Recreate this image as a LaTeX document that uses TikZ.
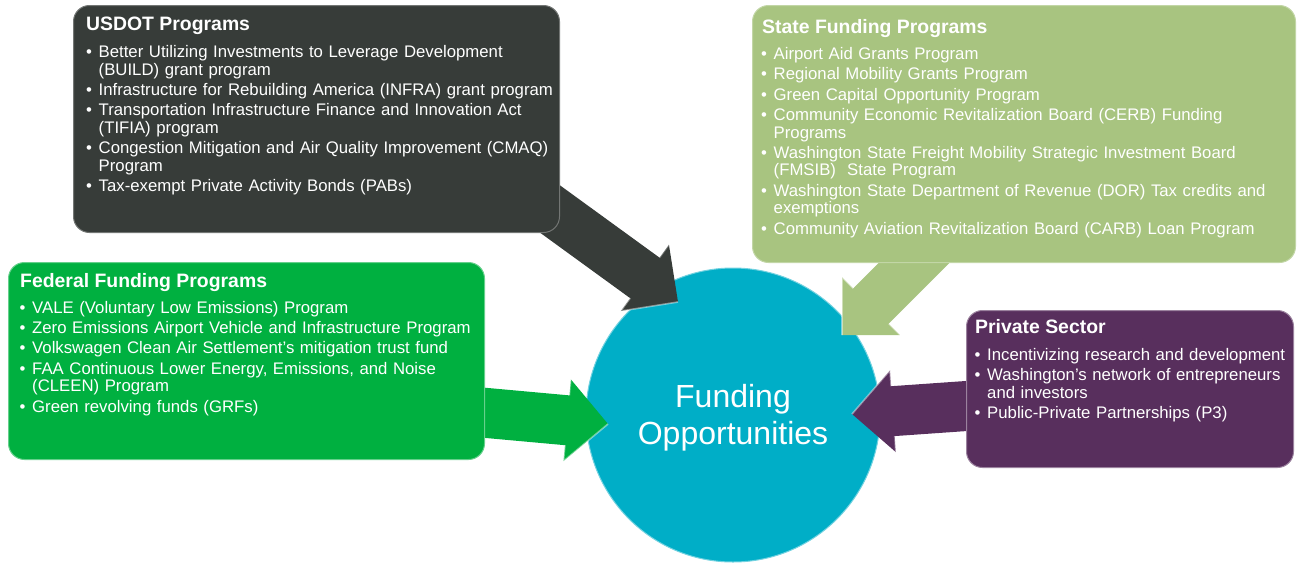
\documentclass[tikz,border=0pt]{standalone}
\usepackage{fontspec}
\setmainfont{Liberation Sans}
\usetikzlibrary{calc}
\definecolor{cUS}{HTML}{373C39}
\definecolor{cST}{HTML}{A8C480}
\definecolor{cFE}{HTML}{00B040}
\definecolor{cPR}{HTML}{582F5D}
\definecolor{cFO}{HTML}{00AEC7}
\newcommand{\bfirst}[1]{\hangindent=12.5pt\hangafter=1\noindent\makebox[12.5pt][l]{\textbullet}#1}
\newcommand{\bitem}[1]{\par\hangindent=12.5pt\hangafter=1\noindent\makebox[12.5pt][l]{\textbullet}#1}
\newcommand{\lstsetup}{\setlength{\parskip}{2.9pt}\setlength{\parindent}{0pt}}
\newcommand{\blockarrow}[4]{%
  \begin{scope}[shift={(#1)}, rotate=#2]
    \fill[#3] (0,0) -- (-41,41) -- (-41,25) -- (-#4,25) -- (-#4,-25) -- (-41,-25) -- (-41,-41) -- cycle;
    \draw[white, opacity=0.45, line width=1.6pt, line join=round] (-41,25) -- (-41,41) -- (0,0);
    \draw[white, opacity=0.3, line width=1.6pt, line join=round] (-41,-25) -- (-41,-41);
  \end{scope}}
\tikzset{
  x=1pt, y=-1pt,
  panel/.style={rounded corners=16pt, anchor=north west, inner sep=0pt, line width=1pt},
  ptitle/.style={anchor=base west, inner sep=0pt, text=white, font=\fontsize{19.4}{22}\selectfont\bfseries},
  plist/.style={anchor=base west, inner sep=0pt, text=white, text width=520pt, align=left, font=\fontsize{16.75}{17.5}\selectfont},
  hub/.style={circle, minimum size=294pt, inner sep=0pt, fill=cFO, draw=cFO!55!white, line width=1pt},
  hubtext/.style={inner sep=0pt, text=white, align=center, font=\fontsize{32}{37}\selectfont}
}
\begin{document}
\begin{tikzpicture}
\useasboundingbox (0,0) rectangle (1297,562);
% hub
\node[hub] (fo) at (733,415) {};
\node[hubtext] (foT) at (733,418) {Funding\\Opportunities};
% arrow tips
\coordinate (tipUS) at (678,302);
\coordinate (tipST) at (842,335);
\coordinate (tipFE) at (608,424);
\coordinate (tipPR) at (852,414);
% arrows
\blockarrow{tipUS}{-36}{cUS}{200}
\blockarrow{tipST}{-135}{cST}{150}
\blockarrow{tipFE}{-5.2}{cFE}{150}
\blockarrow{tipPR}{-176}{cPR}{150}
% panels
\node[panel, fill=cUS, draw=cUS!70!white, minimum width=486pt, minimum height=227pt] (usdot) at (73,5) {};
\node[panel, fill=cST, draw=cST!70!white, minimum width=543pt, minimum height=257pt] (state) at (752,5) {};
\node[panel, fill=cFE, draw=cFE!60!white, minimum width=476pt, minimum height=197pt] (federal) at (8,262) {};
\node[panel, fill=cPR, draw=cPR!60!white, minimum width=327pt, minimum height=157pt] (private) at (966,310) {};
% USDOT text
\node[ptitle] (usdotT) at (86,30) {USDOT Programs};
\node[plist] (usdotL) at (86,57.5) {\lstsetup
\bfirst{Better Utilizing Investments to Leverage Development\newline(BUILD) grant program}
\bitem{Infrastructure for Rebuilding America (INFRA) grant program}
\bitem{Transportation Infrastructure Finance and Innovation Act\newline(TIFIA) program}
\bitem{Congestion Mitigation and Air Quality Improvement (CMAQ)\newline Program}
\bitem{Tax-exempt Private Activity Bonds (PABs)}};
% State text
\node[ptitle] (stateT) at (762,33) {State Funding Programs};
\node[plist] (stateL) at (761,59.3) {\lstsetup
\bfirst{Airport Aid Grants Program}
\bitem{Regional Mobility Grants Program}
\bitem{Green Capital Opportunity Program}
\bitem{Community Economic Revitalization Board (CERB) Funding\newline Programs}
\bitem{Washington State Freight Mobility Strategic Investment Board\newline (FMSIB)~ State Program}
\bitem{Washington State Department of Revenue (DOR) Tax credits and\newline exemptions}
\bitem{Community Aviation Revitalization Board (CARB) Loan Program}};
% Federal text
\node[ptitle] (federalT) at (20,287) {Federal Funding Programs};
\node[plist] (federalL) at (19.5,313) {\lstsetup
\bfirst{VALE (Voluntary Low Emissions) Program}
\bitem{Zero Emissions Airport Vehicle and Infrastructure Program}
\bitem{Volkswagen Clean Air Settlement’s mitigation trust fund}
\bitem{FAA Continuous Lower Energy, Emissions, and Noise\newline(CLEEN) Program}
\bitem{Green revolving funds (GRFs)}};
% Private text
\node[ptitle] (privateT) at (975,333) {Private Sector};
\node[plist] (privateL) at (974.5,360.5) {\lstsetup
\bfirst{Incentivizing research and development}
\bitem{Washington’s network of entrepreneurs\newline and investors}
\bitem{Public-Private Partnerships (P3)}};
\end{tikzpicture}
\end{document}
